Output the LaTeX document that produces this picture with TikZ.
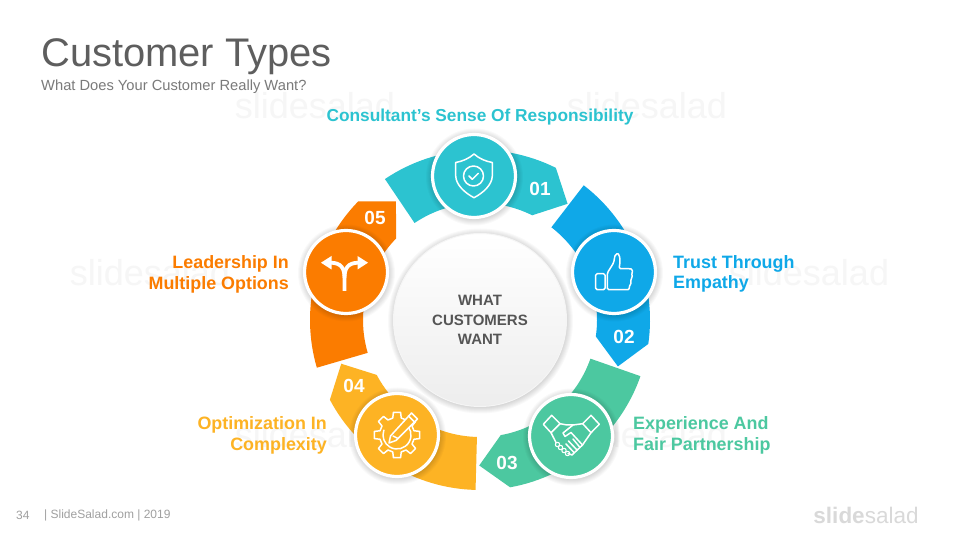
\documentclass[tikz,border=0pt]{standalone}
\usepackage{fontspec}
\setmainfont{Liberation Sans}
\definecolor{cteal}{HTML}{2CC3D0}
\definecolor{cblue}{HTML}{0FA8E8}
\definecolor{cgreen}{HTML}{4CC8A0}
\definecolor{cyellow}{HTML}{FDB324}
\definecolor{corange}{HTML}{FB7C00}
\definecolor{ctitle}{HTML}{5E5E5E}
\definecolor{csub}{HTML}{7A7A7A}
\definecolor{cfoot}{HTML}{A0A0A0}
\definecolor{ccenter}{HTML}{555555}
\tikzset{
  x=1pt,y=1pt,
  watermark/.style={text=black!3.5,font=\fontsize{36}{36}\selectfont,inner sep=0pt},
  title/.style={text=ctitle,anchor=base west,inner sep=0pt,font=\fontsize{39.9}{42}\selectfont},
  subtitle/.style={text=csub,anchor=base west,inner sep=0pt,font=\fontsize{14.7}{16}\selectfont},
  lab/.style={font=\bfseries\fontsize{17.9}{20.3}\selectfont,inner sep=0pt,text=#1},
  labr/.style={lab=#1,align=right,anchor=east},
  labl/.style={lab=#1,align=left,anchor=west},
  num/.style={text=white,font=\bfseries\fontsize{19}{20}\selectfont,inner sep=0pt},
  iconc/.style={circle,fill=#1,draw=white,line width=3.2pt,minimum size=83pt,inner sep=0pt},
  hubc/.style={circle,top color=white,bottom color=black!7,draw=black!4,line width=1pt,minimum size=173pt,inner sep=0pt,
    align=center,text=ccenter,font=\bfseries\fontsize{15}{19.6}\selectfont},
  ic/.style={draw=white,line width=1.5pt,line join=round,line cap=round},
  foot/.style={text=cfoot,inner sep=0pt,font=\fontsize{12}{13}\selectfont},
}
\newcommand{\segm}[2]{%
  \pgfmathsetmacro{\sa}{#1}\pgfmathsetmacro{\sb}{#1-60.5}\pgfmathsetmacro{\st}{#1-71}%
  \fill[#2] (\sa:170) arc[start angle=\sa,end angle=\sb,radius=170] -- (\st:145.5) -- (\sb:117)
    arc[start angle=\sb,end angle=\sa,radius=117] -- cycle;}
\newcommand{\softshadow}[3]{%
  \foreach \k in {1,...,8}{\fill[black,opacity=0.024] (#1+0.5,#2-1) circle[radius=#3+7.5-\k];}}
\begin{document}
\begin{tikzpicture}
\useasboundingbox (0,0) rectangle (960,540);
\fill[white] (0,0) rectangle (960,540);
% watermarks
\node[watermark] (wm1) at (315,434) {slidesalad};
\node[watermark] (wm2) at (647,434) {slidesalad};
\node[watermark] (wm3) at (150,267) {slidesalad};
\node[watermark] (wm4) at (809,267) {slidesalad};
\node[watermark] (wm5) at (315,105) {slidesalad};
\node[watermark] (wm6) at (647,105) {slidesalad};
% title
\node[title] (ttl) at (41,473.5) {Customer Types};
\node[subtitle] (sub) at (41,449) {What Does Your Customer Really Want?};
% ring
\begin{scope}[shift={(480,220)}]
\segm{124}{cteal}
\segm{52.4}{cblue}
\segm{-19.3}{cgreen}
\segm{-91.5}{cyellow}
\segm{-163.7}{corange}
\end{scope}
% shadows + hub
\softshadow{480}{220}{86}
\node[hubc] (hub) at (480,220) {WHAT\\CUSTOMERS\\WANT};
% icon discs
\softshadow{474}{364}{42}
\node[iconc=cteal] (c1) at (474,364) {};
\softshadow{614}{268}{42}
\node[iconc=cblue] (c2) at (614,268) {};
\softshadow{571}{104}{42}
\node[iconc=cgreen] (c3) at (571,104) {};
\softshadow{397}{105}{42}
\node[iconc=cyellow] (c4) at (397,105) {};
\softshadow{346}{268}{42}
\node[iconc=corange] (c5) at (346,268) {};
% numbers
\node[num] (n1) at (540,351) {01};
\node[num] (n2) at (624,203) {02};
\node[num] (n3) at (507,77) {03};
\node[num] (n4) at (354,154) {04};
\node[num] (n5) at (375,322) {05};
% labels
\node[lab=cteal,font=\bfseries\fontsize{17.3}{20}\selectfont] (l1) at (480,423) {Consultant's Sense Of Responsibility};
\node[labl=cblue] (l2) at (673,266) {Trust Through\\Empathy};
\node[labl=cgreen] (l3) at (633,104.5) {Experience And\\Fair Partnership};
\node[labr=cyellow] (l4) at (327,104.5) {Optimization In\\Complexity};
\node[labr=corange] (l5) at (289,265.5) {Leadership In\\Multiple Options};
% shield
\begin{scope}[shift={(c1.center)}]
\draw[ic] (0,22) .. controls (-5,17.5) and (-12,14.5) .. (-18.3,13.5) -- (-18.3,0)
  .. controls (-18,-9) and (-9,-17) .. (0,-21.7) .. controls (9,-17) and (18,-9) .. (18.3,0) -- (18.3,13.5)
  .. controls (12,14.5) and (5,17.5) .. (0,22) -- cycle;
\draw[ic] (-0.5,0) circle[radius=10];
\draw[ic] (-5,0) -- (-1.7,-3.3) -- (4.3,2.7);
\end{scope}
% thumb
\begin{scope}[shift={(c2.center)}]
\draw[ic,rounded corners=1.5pt] (-18.3,-1.7) rectangle (-9,-17.7);
\draw[ic,rounded corners=1.5pt] (-6.7,-1) -- (-0.5,9) .. controls (0.5,13) and (0.5,15) .. (1.5,17.5)
  .. controls (5,19.5) and (7,14) .. (5,3.3) -- (15.5,3.3) .. controls (18.5,3) and (18.5,0) .. (17,-1)
  .. controls (18.5,-3) and (18,-6) .. (16.3,-7) .. controls (17.5,-10) and (16.5,-12) .. (15.3,-12.5)
  .. controls (16,-16) and (14.5,-17.7) .. (12.5,-17.7) -- (-6.7,-17.7) -- cycle;
\end{scope}
% handshake
\begin{scope}[shift={(c3.center)}]
\draw[ic] (-27.7,11.7) -- (-19.3,20.7) -- (-11,12.3) -- (-20,3.3) -- cycle;
\draw[ic] (11.7,12.3) -- (20,20.7) -- (28.3,11.7) -- (20,3.3) -- cycle;
\draw[ic] (-11,12.3) -- (-4,11) -- (2,11) -- (11.7,12.3);
\draw[ic] (-20,3.3) -- (-15,-6.5);
\draw[ic] (20,3.3) -- (11.5,-9) -- (1,-19) -- (-3,-17.5);
\draw[ic] (2,11) -- (-8,3) -- (-6,-0.5) -- (0,3.5) -- (11.5,-9);
\draw[ic] (6,-14) -- (-2.5,-5);
\draw[ic] (9,-11.5) -- (2,-3);
\draw[ic] (3,-16.5) -- (-5,-8);
\foreach \p/\q in {-13.5/-8.5,-10.5/-11.5,-7/-14.5,-3.5/-17.5}{\draw[ic,line width=1.1pt] (\p,\q) circle[radius=2.2];}
\end{scope}
% gear + pencil
\begin{scope}[shift={(c4.center)}]
\draw[ic] (-14:17.5) \foreach \a in {0,45,...,315}{
   -- (\a-14:17.5) -- (\a-9:23) -- (\a+9:23) -- (\a+14:17.5)} -- cycle;
\draw[ic] (60:14) arc[start angle=60,end angle=-200,radius=14];
\draw[fill=cyellow,ic] (14.5,22) -- (20.5,16) -- (-1,-5.5) -- (-8,-8) -- (-6.5,-1) -- cycle;
\draw[ic] (11.5,19) -- (17.5,13);
\draw[ic] (-4,-1) -- (1,-3.5);
\end{scope}
% split arrow
\begin{scope}[shift={(c5.center)}]
\draw[white,line width=3.8pt] (-1.5,-19) -- (-1.5,-6) .. controls (-1.5,4) and (-5,9) .. (-15,9.3);
\draw[white,line width=3.8pt] (-1.5,-6) .. controls (-1.5,4) and (2,9) .. (12,9.3);
\fill[white] (-25,9.3) -- (-14.5,16) -- (-14.5,2.5) -- cycle;
\fill[white] (22,9.3) -- (11.5,16) -- (11.5,2.5) -- cycle;
\end{scope}
% footer
\node[foot,anchor=west] (pg) at (16,25) {34};
\node[foot,anchor=west] (ft) at (44,25) {| SlideSalad.com | 2019};
\node[inner sep=0pt,text=black!15,font=\fontsize{22.5}{25}\selectfont] (logo) at (866,25) {{\bfseries slide}salad};
\end{tikzpicture}
\end{document}
